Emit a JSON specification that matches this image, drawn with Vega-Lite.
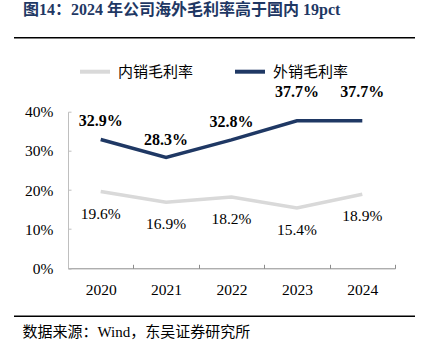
{
  "$schema": "https://vega.github.io/schema/vega-lite/v6.json",
  "width": 401,
  "height": 156.6,
  "autosize": "none",
  "padding": {"left": 14, "top": 111.7, "right": 7, "bottom": 78.7},
  "background": "white",
  "config": {
    "view": {"stroke": null},
    "font": "Liberation Serif, Noto Sans CJK SC"
  },
  "title": {
    "text": "图14：2024 年公司海外毛利率高于国内 19pct",
    "anchor": "start",
    "frame": "group",
    "dx": 9,
    "offset": 6,
    "baseline": "alphabetic",
    "font": "Liberation Serif, Noto Sans CJK SC",
    "fontSize": 16,
    "fontWeight": "bold",
    "color": "#1F3864"
  },
  "data": {
    "values": [
      {"year": "2020", "series": "内销毛利率", "value": 0.196},
      {"year": "2021", "series": "内销毛利率", "value": 0.169},
      {"year": "2022", "series": "内销毛利率", "value": 0.182},
      {"year": "2023", "series": "内销毛利率", "value": 0.154},
      {"year": "2024", "series": "内销毛利率", "value": 0.189},
      {"year": "2020", "series": "外销毛利率", "value": 0.329},
      {"year": "2021", "series": "外销毛利率", "value": 0.283},
      {"year": "2022", "series": "外销毛利率", "value": 0.328},
      {"year": "2023", "series": "外销毛利率", "value": 0.377},
      {"year": "2024", "series": "外销毛利率", "value": 0.377}
    ]
  },
  "encoding": {
    "x": {
      "field": "year",
      "type": "ordinal",
      "sort": ["2020", "2021", "2022", "2023", "2024"],
      "scale": {"type": "band", "range": [54, 381], "paddingInner": 0, "paddingOuter": 0},
      "axis": {
        "labelAngle": 0,
        "labelFont": "Liberation Serif",
        "labelFontSize": 15.5,
        "labelColor": "#000000",
        "labelPadding": 18,
        "domainColor": "#8C8C8C",
        "domainWidth": 1,
        "tickColor": "#8C8C8C",
        "tickSize": -4,
        "tickBand": "extent",
        "grid": false,
        "title": "数据来源：Wind，东吴证券研究所",
        "titleX": 8,
        "titleY": 63,
        "titleAlign": "left",
        "titleAnchor": null,
        "titleBaseline": "middle",
        "titleFont": "Liberation Serif, Noto Sans CJK SC",
        "titleFontSize": 15,
        "titleFontWeight": "normal",
        "titleColor": "#000000"
      }
    },
    "y": {
      "field": "value",
      "type": "quantitative",
      "scale": {"domain": [0, 0.4], "nice": false, "zero": true},
      "axis": {
        "values": [0, 0.1, 0.2, 0.3, 0.4],
        "format": ".0%",
        "offset": -54,
        "labelFont": "Liberation Serif",
        "labelFontSize": 15.5,
        "labelColor": "#000000",
        "labelPadding": 18,
        "domainColor": "#BFBFBF",
        "tickColor": "#BFBFBF",
        "tickSize": -3,
        "grid": false,
        "title": null
      }
    }
  },
  "layer": [
    {
      "mark": {"type": "line", "strokeWidth": 3.5},
      "encoding": {
        "color": {
          "field": "series",
          "type": "nominal",
          "scale": {"domain": ["内销毛利率", "外销毛利率"], "range": ["#D9D9D9", "#1F3864"]},
          "legend": {
            "orient": "none",
            "legendX": 64,
            "legendY": -57,
            "direction": "horizontal",
            "title": null,
            "symbolType": "stroke",
            "symbolSize": 900,
            "symbolStrokeWidth": 4,
            "labelFont": "Liberation Serif, Noto Sans CJK SC",
            "labelFontSize": 15,
            "labelColor": "#000000",
            "labelOffset": 6,
            "columnPadding": 33
          }
        }
      }
    },
    {
      "transform": [{"filter": "datum.series === '内销毛利率'"}],
      "mark": {"type": "text", "dy": 22, "fontSize": 15.5, "font": "Liberation Serif", "color": "#000000"},
      "encoding": {"text": {"field": "value", "type": "quantitative", "format": ".1%"}}
    },
    {
      "transform": [{"filter": "datum.series === '外销毛利率' && datum.year !== '2023' && datum.year !== '2024'"}],
      "mark": {"type": "text", "dy": -18, "fontSize": 16, "fontWeight": "bold", "font": "Liberation Serif", "color": "#000000"},
      "encoding": {"text": {"field": "value", "type": "quantitative", "format": ".1%"}}
    },
    {
      "transform": [{"filter": "datum.series === '外销毛利率' && (datum.year === '2023' || datum.year === '2024')"}],
      "mark": {"type": "text", "dy": -29, "fontSize": 16, "fontWeight": "bold", "font": "Liberation Serif", "color": "#000000"},
      "encoding": {"text": {"field": "value", "type": "quantitative", "format": ".1%"}}
    },
    {
      "data": {"values": [{"pos": 0.589}, {"pos": -0.1226}]},
      "mark": {"type": "rule", "color": "#000000", "strokeWidth": 1.6},
      "encoding": {
        "x": null,
        "y": {"field": "pos", "type": "quantitative"}
      }
    }
  ]
}
